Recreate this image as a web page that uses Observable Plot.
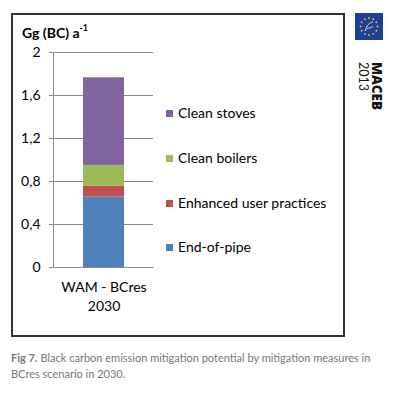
<!DOCTYPE html>
<html><head><meta charset="utf-8">
<script src="https://cdn.jsdelivr.net/npm/d3@7"></script>
<script src="https://cdn.jsdelivr.net/npm/@observablehq/plot@0.6"></script>
<style>
body{margin:0;background:#fff;font-family:Lato,"Open Sans",sans-serif;width:394px;height:400px;position:relative;overflow:hidden}
#box{position:absolute;left:11px;top:13px;width:330px;height:320px;border:2px solid #333}
#chart{position:absolute;left:0;top:0}
#title{position:absolute;left:9px;top:8px;font-weight:bold;font-size:14px;color:#000}
#title sup{font-size:9px;position:relative;top:-1px}
.leg{position:absolute;left:153px;font-size:14px;color:#000;white-space:nowrap;line-height:16px}
.leg span{display:inline-block;width:7px;height:7px;margin-right:5px;vertical-align:1px}
#logo{position:absolute;left:355px;top:13px}
#brand{position:absolute;left:354px;top:62px;transform-origin:0 0;transform:translate(29px,0) rotate(90deg);font-size:12.5px;line-height:13px;color:#111;white-space:nowrap}
#brand b{font-family:"Open Sans",sans-serif;font-weight:800;font-size:13.5px}
#caption{position:absolute;left:11px;top:350px;width:383px;font-size:11px;line-height:16px;color:#777;white-space:nowrap}
#caption b{margin-right:3px}
</style></head>
<body>
<div id="box"><div id="chart"></div><div id="title">Gg (BC) a<sup>-1</sup></div></div>
<svg id="logo" width="28" height="27"></svg>
<div id="brand"><b>MACEB</b><br>2013</div>
<div id="caption"><b>Fig 7.</b>Black carbon emission mitigation potential by mitigation measures in<br>BCres scenario in 2030.</div>
<script>
const scenario = "WAM - BCres\n2030";
const measures = ["End-of-pipe", "Enhanced user practices", "Clean boilers", "Clean stoves"];
const values = [0.655, 0.10, 0.195, 0.815];
const colors = ["#4F81BD", "#C0504D", "#9BBB59", "#8064A2"];
const yTicks = [0, 0.4, 0.8, 1.2, 1.6, 2];

const data = measures.map((m, i) => ({scenario, measure: m, value: values[i]}));
const grid = "#8a8a8a";

const chart = Plot.plot({
  width: 150, height: 310,
  marginLeft: 40, marginRight: 10, marginTop: 37, marginBottom: 58,
  style: {fontFamily: "Lato, 'Open Sans', sans-serif", fontSize: "14px", color: "#000", background: "transparent"},
  x: {domain: [scenario], padding: 0.418, axis: null, label: null},
  y: {domain: [0, 2], axis: null, label: null},
  color: {domain: measures, range: colors},
  marks: [
    Plot.gridY(yTicks, {stroke: grid, strokeOpacity: 1}),
    Plot.frame({stroke: grid, strokeDasharray: "0 315 315 0"}),
    Plot.axisY(yTicks, {tickSize: 4, tickPadding: 9, stroke: grid, fontSize: 14, label: null, tickFormat: d => String(d).replace(".", ",")}),
    Plot.barY(data, {x: "scenario", y: "value", fill: "measure", order: measures}),
    Plot.axisX({tickSize: 0, tickPadding: 12, lineHeight: 1.3, fontSize: 14, label: null})
  ]
});
chart.querySelectorAll("g[aria-label='y-axis tick label'] text, g[aria-label='x-axis tick label'] text").forEach(t => t.setAttribute("fill", "#000"));
document.getElementById("chart").appendChild(chart);

// legend (top to bottom: reverse stack order)
const box = document.getElementById("box");
const legY = [90, 135, 180, 224];
[...measures].reverse().forEach((m, i) => {
  const d = document.createElement("div");
  d.className = "leg";
  d.style.top = legY[i] + "px";
  d.innerHTML = `<span style="background:${colors[measures.indexOf(m)]}"></span>${m}`;
  box.appendChild(d);
});

// logo
const logo = d3.select("#logo");
logo.append("rect").attr("width", 28).attr("height", 27).attr("fill", "#1d3f9c");
d3.range(12).forEach(i => {
  const a = i / 12 * 2 * Math.PI;
  logo.append("circle").attr("cx", 14 + 8.5 * Math.cos(a)).attr("cy", 13.5 + 8.5 * Math.sin(a)).attr("r", 0.9).attr("fill", "#f5d800");
});
logo.append("path").attr("d", "M10 18 C12 12 15 9 18 9 M12 16 C14 14 16 16 18 13").attr("stroke", "#f5e9a0").attr("fill", "none").attr("stroke-width", 1);
</script>
</body></html>
